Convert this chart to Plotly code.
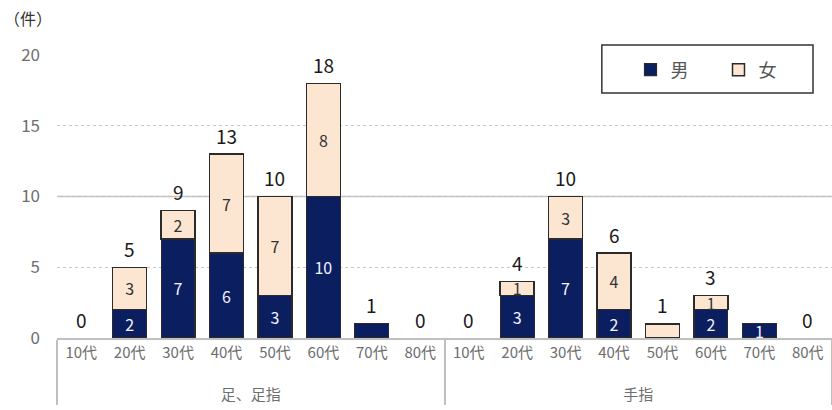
import plotly.graph_objects as go

# Categories: body part group and age band
groups = ["足、足指"] * 8 + ["手指"] * 8
ages = ["10代", "20代", "30代", "40代", "50代", "60代", "70代", "80代"] * 2

# Counts per series
male = [0, 2, 7, 6, 3, 10, 1, 0, 0, 3, 7, 2, 0, 2, 1, 0]
female = [0, 3, 2, 7, 7, 8, 0, 0, 0, 1, 3, 4, 1, 1, 0, 0]

# Labels shown inside the segments and above the stacks
male_labels = ["", "2", "7", "6", "3", "10", "", "", "", "3", "7", "2", "", "2", "1", ""]
female_labels = ["", "3", "2", "7", "7", "8", "", "", "", "1", "3", "4", "", "1", "", ""]
total_labels = ["0", "5", "9", "13", "10", "18", "1", "0", "0", "4", "10", "6", "1", "3", "", "0"]

totals = [m + f for m, f in zip(male, female)]
# push the group name one line lower under the age labels
x = [["<br>" + g for g in groups], ages]

FONT = "Noto Sans CJK JP"
NAVY = "#0b1f60"
BEIGE = "#fce6d2"
EDGE = "#2b2b2b"
GREY = "#6e6e6e"


def drawn(values):
    # empty segments are left out so no outline is drawn on the axis
    return [v if v else None for v in values]


fig = go.Figure()
fig.add_trace(go.Bar(
    x=x, y=drawn(male), name="男", width=0.7,
    marker=dict(color=NAVY, line=dict(color=EDGE, width=1.2)),
    text=male_labels, textposition="inside", insidetextanchor="middle",
    constraintext="none", textangle=0,
    textfont=dict(family=FONT, size=16, color="#f2f4ff"),
))
fig.add_trace(go.Bar(
    x=x, y=drawn(female), name="女", width=0.7,
    marker=dict(color=BEIGE, line=dict(color=EDGE, width=1.5)),
    text=female_labels, textposition="inside", insidetextanchor="middle",
    constraintext="none", textangle=0,
    textfont=dict(family=FONT, size=16, color="#333333"),
))

# Stack totals above each bar
annotations = [
    dict(x=i, y=t, xref="x", yref="y", text=lbl, showarrow=False,
         yanchor="middle", yshift=19,
         font=dict(family=FONT, size=19, color="#1a1a1a"))
    for i, (t, lbl) in enumerate(zip(totals, total_labels)) if lbl
]
annotations.append(dict(
    text="（件）", xref="paper", yref="paper", x=-0.071, y=1.13,
    xanchor="left", yanchor="middle", showarrow=False,
    font=dict(family=FONT, size=16, color="#333333"),
))

shapes = [
    # solid reference line at 10
    dict(type="line", xref="paper", x0=0, x1=1, yref="y", y0=10, y1=10,
         line=dict(color="#bdbdbd", width=1.5), layer="below"),
    # legend frame
    dict(type="rect", xref="paper", yref="paper", x0=0.703, x1=0.9755,
         y0=0.866, y1=1.035, fillcolor="white",
         line=dict(color="#333333", width=1.5), layer="above"),
]

fig.update_layout(
    width=832, height=410,
    margin=dict(l=57, r=0, t=55, b=72),
    paper_bgcolor="white", plot_bgcolor="white",
    barmode="stack",
    font=dict(family=FONT, color=GREY),
    showlegend=True,
    legend=dict(
        orientation="h", x=0.74, xanchor="left", y=0.947, yanchor="middle",
        bgcolor="rgba(0,0,0,0)", borderwidth=0,
        font=dict(family=FONT, size=18, color="#555555"),
        entrywidth=43, traceorder="normal",
    ),
    annotations=annotations,
    shapes=shapes,
)
fig.update_xaxes(
    type="multicategory", range=[-0.5, 15.5],
    showline=True, linecolor="#bfbfbf", linewidth=1.5,
    showgrid=False, ticks="",
    tickfont=dict(family=FONT, size=15, color=GREY),
    dividercolor="#bfbfbf", dividerwidth=1.5,
)
fig.update_yaxes(
    range=[0, 20], tickvals=[0, 5, 10, 15, 20],
    showgrid=True, gridcolor="#c8c8c8", griddash="dot", gridwidth=1.2,
    zeroline=False, showline=False,
    tickfont=dict(family=FONT, size=17, color=GREY),
    ticklabelstandoff=16,
)

fig.write_html("out.html")
